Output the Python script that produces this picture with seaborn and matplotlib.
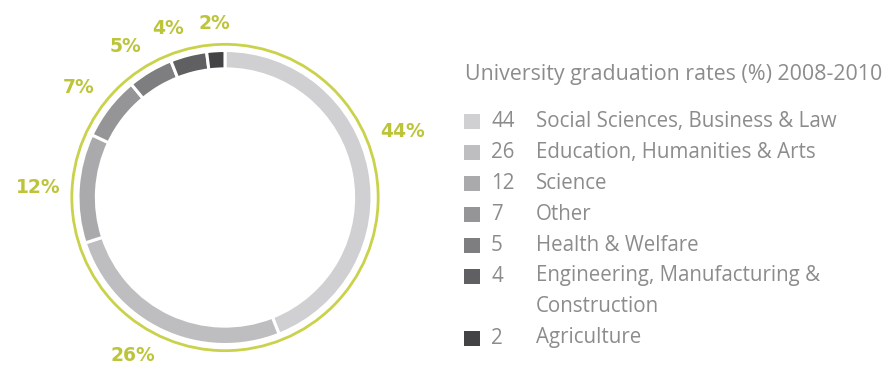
import numpy as np
import matplotlib
matplotlib.use("Agg")
import matplotlib.pyplot as plt
from matplotlib.patches import Rectangle, Circle
import seaborn as sns

values = [44, 26, 12, 7, 5, 4, 2]
categories = ["Social Sciences, Business & Law",
              "Education, Humanities & Arts",
              "Science",
              "Other",
              "Health & Welfare",
              "Engineering, Manufacturing &\nConstruction",
              "Agriculture"]
pct_labels = [f"{v}%" for v in values]
title = "University graduation rates (%) 2008-2010"

sns.set_theme(style="white")
plt.rcParams['font.family'] = ['Open Sans', 'DejaVu Sans']

colors = ["#d0d0d3", "#bebec1", "#aaaaad", "#959598", "#7e7e81", "#606063", "#434346"]
green = "#c9d24a"
label_green = "#bcc43a"
text_gray = "#8c8c8c"

W, H = 892, 374
fig = plt.figure(figsize=(W / 100, H / 100), dpi=100)
fig.patch.set_facecolor("white")

# donut axes: covers pixels x 0..450, full height; 147 px per data unit
cx, cy, s = 225, 197.5, 147.0
ax = fig.add_axes([0, 0, 450 / W, 1])

wedges, texts = ax.pie(values, labels=pct_labels, colors=colors, startangle=90,
                       counterclock=False, radius=1.0, labeldistance=1.12,
                       wedgeprops=dict(width=0.125, edgecolor="white", linewidth=2.2),
                       textprops=dict(color=label_green, fontsize=13.5, fontweight="bold",
                                      family=["DejaVu Sans"]),
                       frame=True)
ax.set_xlim((0 - cx) / s, (450 - cx) / s)
ax.set_ylim((cy - H) / s, cy / s)
ax.set_aspect("auto")
ax.axis("off")

# align labels outward from the ring
for i, (w, t) in enumerate(zip(wedges, texts)):
    a = np.deg2rad((w.theta1 + w.theta2) / 2)
    if i == 0:
        a = np.deg2rad(20)
        t.set_position((1.12 * np.cos(a), 1.12 * np.sin(a)))
    c, sn = np.cos(a), np.sin(a)
    t.set_ha("left" if c > 0.2 else ("right" if c < -0.2 else "center"))
    t.set_va("bottom" if sn > 0.3 else ("top" if sn < -0.3 else "center"))

ax.add_patch(Circle((0, 0), 1.042, fill=False, edgecolor=green, linewidth=2.0))

# legend axes in pixel coordinates
lax = fig.add_axes([0, 0, 1, 1])
lax.set_xlim(0, W)
lax.set_ylim(H, 0)
lax.axis("off")
lax.text(465, 74, title, color=text_gray, fontsize=15.4, va="center", ha="left")
rows_y = [121, 152, 183, 214, 245, 276, 338]
fs = 14.8
for v, cat, c, y in zip(values, categories, colors, rows_y):
    lax.add_patch(Rectangle((464, y - 7.5), 16, 15, facecolor=c, edgecolor="none"))
    lax.text(491, y, str(v), color=text_gray, fontsize=fs, va="center", ha="left")
    if "\n" in cat:
        first, second = cat.split("\n")
        lax.text(536, y, first, color=text_gray, fontsize=fs, va="center", ha="left")
        lax.text(536, y + 31, second, color=text_gray, fontsize=fs, va="center", ha="left")
    else:
        lax.text(536, y, cat, color=text_gray, fontsize=fs, va="center", ha="left")

fig.savefig("out.png", dpi=100, facecolor="white")
